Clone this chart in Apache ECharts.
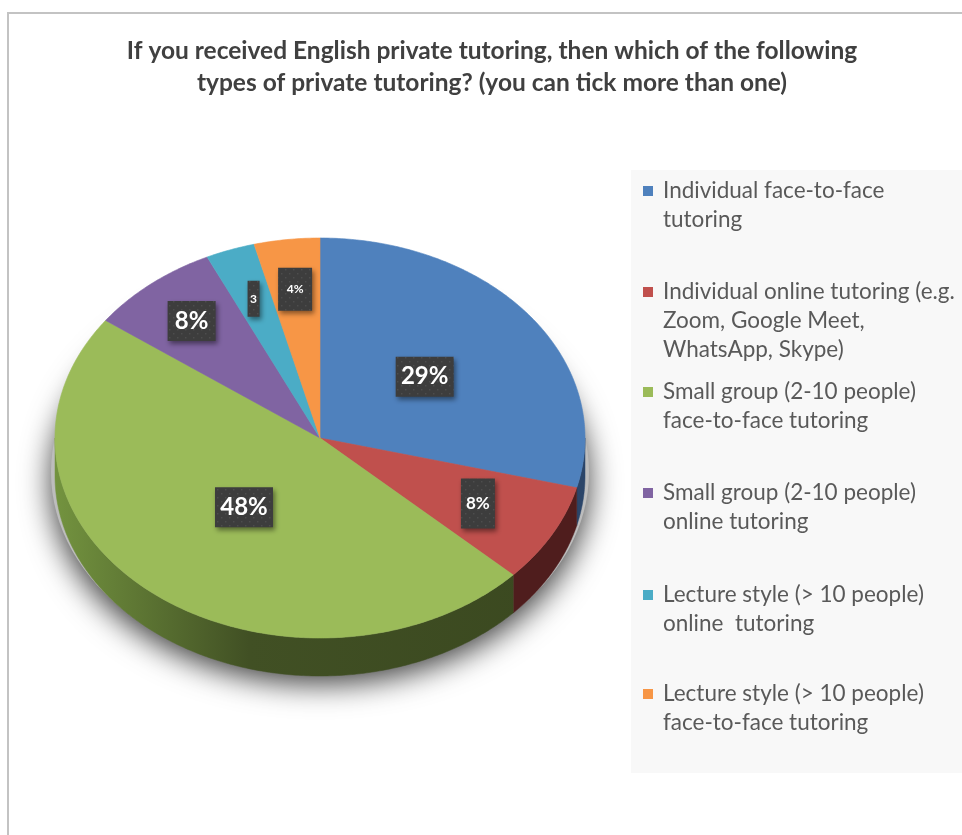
<!DOCTYPE html>
<html>
<head>
<meta charset="utf-8">
<script src="https://cdn.jsdelivr.net/npm/echarts@6/dist/echarts.min.js"></script>
<style>
  html, body { margin: 0; padding: 0; background: #ffffff; }
  #chart { width: 962px; height: 835px; }
</style>
</head>
<body>
<div id="chart"></div>
<script>
// Survey answers: share of respondents per tutoring type
const categories = [
  'Individual face-to-face\ntutoring',
  'Individual online tutoring (e.g.\nZoom, Google Meet,\nWhatsApp, Skype)',
  'Small group (2-10 people)\nface-to-face tutoring',
  'Small group (2-10 people)\nonline tutoring',
  'Lecture style (> 10 people)\nonline  tutoring',
  'Lecture style (> 10 people)\nface-to-face tutoring'
];
const percentages = [29, 8, 48, 8, 3, 4];
const valueLabels = ['29%', '8%', '48%', '8%', '3', '4%'];
const titleText = 'If you received English private tutoring, then which of the following\ntypes of private tutoring? (you can tick more than one)';

// Styling
const topColors = ['#4f81bd', '#c0504d', '#9bbb59', '#8064a2', '#4bacc6', '#f79646'];
const sideColors = [
  '#2b4569',
  '#4f1d1d',
  { type: 'linear', x: 55, y: 0, x2: 540, y2: 0, global: true,
    colorStops: [
      { offset: 0, color: '#73933f' },
      { offset: 0.4, color: '#415024' },
      { offset: 1, color: '#3b4920' }
    ] },
  '#45365a',
  '#296070',
  '#8a5224'
];
// label box size / font size / radial position (fraction of radius)
const labelBoxes = [
  { w: 58, h: 40, fs: 24, f: 0.50 },
  { w: 34, h: 50, fs: 17, f: 0.68 },
  { w: 58, h: 40, fs: 24, f: 0.45 },
  { w: 48, h: 40, fs: 24, f: 0.76 },
  { w: 12, h: 36, fs: 12, f: 0.74 },
  { w: 34, h: 43, fs: 12, f: 0.75 }
];
const FONT = 'Lato, "Open Sans", sans-serif';

// Pie geometry (tilted disc)
const CX = 320, CY = 438, RX = 265, RY = 200, DEPTH = 38;
const TAU = Math.PI * 2;

// dotted fill for the value boxes
const dots = document.createElement('canvas');
dots.width = 8; dots.height = 8;
(function () {
  const c = dots.getContext('2d');
  c.fillStyle = '#3d3d3d';
  c.fillRect(0, 0, 8, 8);
  c.fillStyle = '#4d4d4d';
  c.fillRect(1, 1, 1.5, 1.5);
  c.fillRect(5, 5, 1.5, 1.5);
})();

function rimPoint(t, dy) {
  return [CX + RX * Math.sin(t), CY - RY * Math.cos(t) + (dy || 0)];
}

function renderSlice(i) {
  return function (params, api) {
    const total = percentages.reduce((s, v) => s + v, 0);
    let before = 0;
    for (let k = 0; k < i; k++) before += percentages[k];
    const v = api.value(0);
    const a0 = before / total * TAU;
    const a1 = (before + v) / total * TAU;
    const children = [];

    if (i === 0) {
      // soft drop shadow beneath the disc
      children.push({
        type: 'ellipse',
        z2: -5,
        shape: { cx: CX, cy: CY + DEPTH - 4, rx: RX + 4, ry: RY + 2 },
        style: { fill: '#bdbdbd', shadowBlur: 30, shadowColor: 'rgba(0,0,0,0.75)', shadowOffsetY: 10 }
      });
    }

    // visible rim (front half of the disc)
    const s0 = Math.max(a0, Math.PI / 2);
    const s1 = Math.min(a1, Math.PI * 1.5);
    if (s1 > s0) {
      const n = Math.max(2, Math.ceil((s1 - s0) / 0.01));
      const upper = [], lower = [];
      for (let k = 0; k <= n; k++) {
        const t = s0 + (s1 - s0) * k / n;
        upper.push(rimPoint(t, 0));
        lower.push(rimPoint(t, DEPTH));
      }
      children.push({
        type: 'polygon',
        shape: { points: upper.concat(lower.reverse()) },
        style: { fill: sideColors[i], stroke: sideColors[i], lineWidth: 0.5 }
      });
    }

    // top face
    const face = [[CX, CY]];
    const m = Math.max(2, Math.ceil((a1 - a0) / 0.01));
    for (let k = 0; k <= m; k++) face.push(rimPoint(a0 + (a1 - a0) * k / m, 0));
    const col = api.visual('color');
    children.push({
      type: 'polygon',
      shape: { points: face },
      style: { fill: col, stroke: col, lineWidth: 0.6 }
    });

    // value box
    const mid = (a0 + a1) / 2;
    const lb = labelBoxes[i];
    const lx = CX + lb.f * RX * Math.sin(mid);
    const ly = CY - lb.f * RY * Math.cos(mid);
    children.push({
      type: 'rect',
      z2: 50,
      shape: { x: lx - lb.w / 2, y: ly - lb.h / 2, width: lb.w, height: lb.h },
      style: {
        fill: { image: dots, repeat: 'repeat' },
        shadowBlur: 5, shadowOffsetX: 2, shadowOffsetY: 3, shadowColor: 'rgba(0,0,0,0.45)'
      }
    });
    children.push({
      type: 'text',
      z2: 51,
      x: lx, y: ly,
      style: {
        text: valueLabels[i],
        fill: '#ffffff',
        font: 'bold ' + lb.fs + 'px ' + FONT,
        align: 'center',
        verticalAlign: 'middle'
      }
    });

    return { type: 'group', children: children };
  };
}

// one legend block per category so every entry keeps its own row;
// leading blank lines keep the marker beside the first text line
const LEGEND_LINE = 29;
const legendFirstLine = [191, 292, 392, 493, 595, 694];
const legends = categories.map(function (name, i) {
  const lines = name.split('\n').length;
  return {
    data: [name],
    orient: 'vertical',
    left: 643,
    top: legendFirstLine[i] - (2 * lines - 1) * LEGEND_LINE / 2,
    padding: 0,
    itemWidth: 10,
    itemHeight: 10,
    icon: 'rect',
    selectedMode: false,
    formatter: function (n) {
      return '\n'.repeat(lines - 1) + n;
    },
    textStyle: {
      fontFamily: FONT,
      fontSize: 22.5,
      color: '#595959',
      lineHeight: LEGEND_LINE,
      padding: [0, 0, 0, 5]
    }
  };
});

const series = categories.map(function (name, i) {
  return {
    type: 'custom',
    name: name,
    coordinateSystem: 'none',
    itemStyle: { color: topColors[i] },
    data: [[percentages[i]]],
    renderItem: renderSlice(i),
    silent: true
  };
});

const chart = echarts.init(document.getElementById('chart'), null, { renderer: 'canvas' });
chart.setOption({
  animation: false,
  backgroundColor: '#ffffff',
  title: {
    text: titleText,
    left: 492,
    top: 35,
    padding: 0,
    textAlign: 'center',
    textStyle: {
      fontFamily: FONT,
      fontSize: 24.5,
      fontWeight: 'bold',
      color: '#404040',
      lineHeight: 32
    }
  },
  graphic: [
    {
      type: 'rect', z: -10,
      shape: { x: 8, y: 13, width: 990, height: 900 },
      style: { fill: '#ffffff', stroke: '#c3c3c3', lineWidth: 2 }
    },
    {
      type: 'rect', z: -9,
      shape: { x: 631, y: 170, width: 340, height: 603 },
      style: { fill: '#f8f8f8' }
    }
  ],
  legend: legends,
  series: series
});
</script>
</body>
</html>
